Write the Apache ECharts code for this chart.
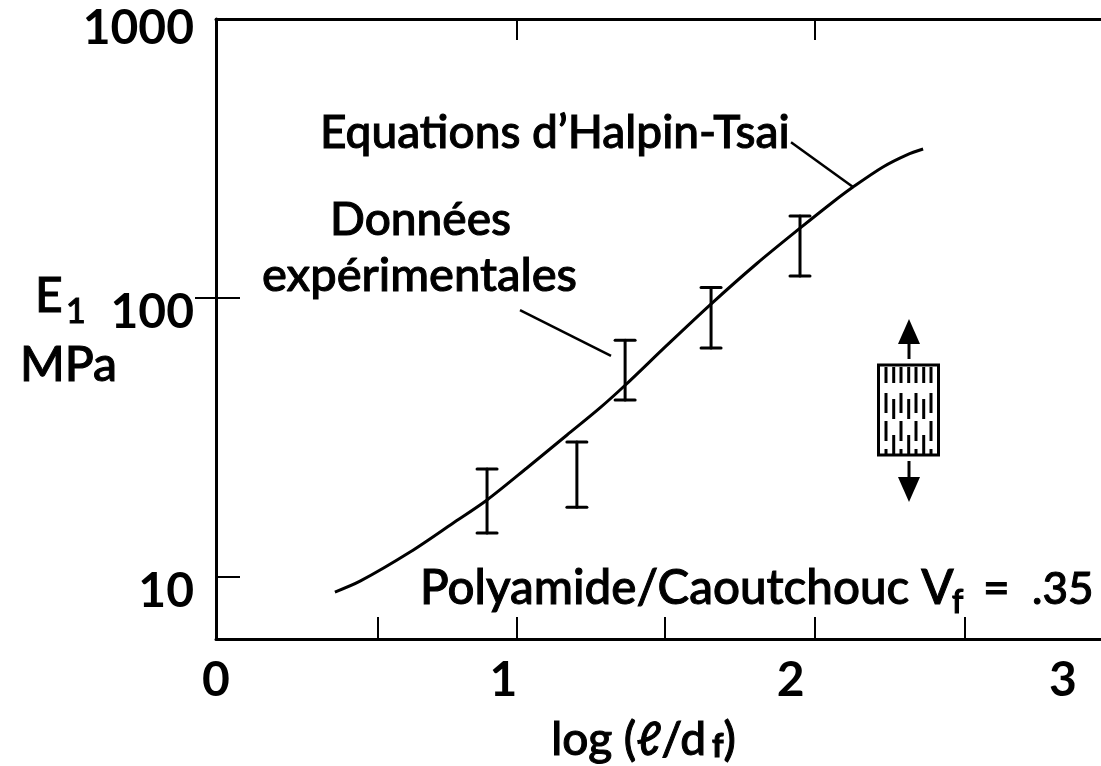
<!DOCTYPE html>
<html><head><meta charset="utf-8">
<style>html,body{margin:0;padding:0;background:#fff}#c{width:1101px;height:766px}</style>
<script src="https://cdn.jsdelivr.net/npm/echarts@6/dist/echarts.min.js"></script>
</head><body><div id="c"></div>
<script>
const curveX = [0.397,0.481,0.648,0.791,0.905,1.038,1.172,1.282,1.366,1.506,1.649,1.806,1.950,2.060,2.127,2.227,2.307,2.361];
const curveY = [8.84,9.67,12.3,15.6,18.9,24.6,32.3,40.4,48.7,67.8,94.4,133,178,221,250,295,326,342];
const barX = [0.905,1.205,1.366,1.653,1.950];
const barHigh = [24.4,30.5,70.6,109,197];
const barLow = [14.4,17.8,43.1,66.2,120];
const leaderA = [[1.920,362],[2.127,250]];
const leaderB = [[1.015,90.6],[1.319,62]];
const xLabels = [0,1,2,3];
const xTicks = [0.54,1.005,1.5,2,2.5];
const xTicksTop = [1.005,2];
const yTicks = [10,100,1000];
const yTicksRight = [100];
const FONT = 'Lato';
const black = '#000';

const chart = echarts.init(document.getElementById('c'));
const txt = (x,base,text,size,w) => ({type:'text',x,y:base-0.81*size,silent:true,style:{text,fontFamily:FONT,fontSize:size,fontWeight:500,fill:black,stroke:black,lineWidth:w===undefined?1:w}});
const rect = (x,y,w,h) => ({type:'rect',silent:true,shape:{x,y,width:w,height:h},style:{fill:black}});
const specimen = [];
specimen.push({type:'rect',silent:true,shape:{x:878.5,y:365,width:60,height:90},style:{fill:'none',stroke:black,lineWidth:3}});
[886,901,916,931].forEach(x=>[[367,383],[393,413],[421,441],[449,456]].forEach(r=>specimen.push(rect(x-1.5,r[0],3,r[1]-r[0]))));
[893.7,908.7,923.7].forEach(x=>[[367,383],[399,419],[435,456]].forEach(r=>specimen.push(rect(x-1.5,r[0],3,r[1]-r[0]))));
specimen.push({type:'polygon',silent:true,shape:{points:[[909,319],[898,344],[920,344]]},style:{fill:black}});
specimen.push(rect(907.5,343,3,16));
specimen.push({type:'polygon',silent:true,shape:{points:[[909,502],[898,477],[920,477]]},style:{fill:black}});
specimen.push(rect(907.5,461,3,17));

const lineSeries = (data,width) => ({type:'line',data,showSymbol:false,silent:true,smooth:false,lineStyle:{color:black,width},animation:false,z:3});

chart.setOption({
  animation:false,
  backgroundColor:'#fff',
  grid:{left:216,right:0,top:19,bottom:127,outerBoundsMode:'none'},
  xAxis:[
    {type:'value',position:'bottom',min:0,max:2.955,splitLine:{show:false},
     axisLine:{show:true,lineStyle:{color:black,width:3}},
     axisTick:{show:true,inside:true,length:22,lineStyle:{color:black,width:2},customValues:xTicks},
     axisLabel:{show:false},
     name:'log (ℓ/d{s|f}{b|)}',nameLocation:'middle',nameGap:78,
     nameTextStyle:{fontFamily:FONT,fontSize:46,fontWeight:500,color:black,padding:[0,30,0,0],textBorderColor:black,textBorderWidth:1,
       rich:{s:{fontFamily:FONT,fontSize:32,fontWeight:700,padding:[14,0,0,6],textBorderColor:black,textBorderWidth:1},b:{fontFamily:FONT,fontSize:46,fontWeight:500,textBorderColor:black,textBorderWidth:1}}}},
    {type:'value',position:'bottom',min:0,max:3.08,interval:1,splitLine:{show:false},
     axisLine:{show:false},axisTick:{show:false},
     axisLabel:{show:true,margin:18,showMaxLabel:true,showMinLabel:true,hideOverlap:false,verticalAlign:'top',
       customValues:xLabels,
       fontFamily:FONT,fontSize:48,fontWeight:700,color:black,
       formatter:v=>v===3?'{t|3}':String(v),rich:{t:{fontFamily:FONT,fontSize:48,fontWeight:700,color:black,padding:[0,30,0,0]}}}},
    {type:'value',position:'top',min:0,max:2.955,splitLine:{show:false},
     axisLine:{show:true,lineStyle:{color:black,width:3}},
     axisTick:{show:true,inside:true,length:21,lineStyle:{color:black,width:2},customValues:xTicksTop},
     axisLabel:{show:false}}
  ],
  yAxis:[
    {type:'log',logBase:10,position:'left',min:6,max:1000,splitLine:{show:false},minorTick:{show:false},
     axisLine:{show:true,lineStyle:{color:black,width:3}},
     axisTick:{show:true,inside:true,length:24,lineStyle:{color:black,width:2},customValues:yTicks},
     axisLabel:{show:true,margin:22,customValues:yTicks,hideOverlap:false,showMinLabel:true,showMaxLabel:true,
       fontFamily:FONT,fontSize:48,fontWeight:700,color:black,
       formatter:v=>v>=1000?'{a|'+v+'}':'{b|'+v+'}',
       rich:{a:{fontFamily:FONT,fontSize:48,fontWeight:700,color:black,padding:[20,0,0,0]},
             b:{fontFamily:FONT,fontSize:48,fontWeight:700,color:black,padding:[28,0,0,0]}}}},
    {type:'log',logBase:10,position:'right',min:6,max:1000,splitLine:{show:false},
     axisLine:{show:false},
     axisTick:{show:true,inside:true,length:21,lineStyle:{color:black,width:2},customValues:yTicksRight},
     axisLabel:{show:false}}
  ],
  series:[
    Object.assign(lineSeries(curveX.map((x,i)=>[x,curveY[i]]),3),{smooth:0.3}),
    lineSeries(leaderA,2.5),
    lineSeries(leaderB,2.5),
    {type:'custom',silent:true,animation:false,z:4,clip:false,
     data:barX.map((x,i)=>[x,barLow[i],barHigh[i]]),
     encode:{x:0,y:[1,2]},
     renderItem:(p,api)=>{
       const lo=api.coord([api.value(0),api.value(1)]), hi=api.coord([api.value(0),api.value(2)]);
       const s={stroke:black,lineWidth:3,lineCap:'round'}, w=10;
       return {type:'group',children:[
         {type:'line',shape:{x1:lo[0],y1:lo[1],x2:hi[0],y2:hi[1]},style:s},
         {type:'line',shape:{x1:lo[0]-w,y1:lo[1],x2:lo[0]+w,y2:lo[1]},style:s},
         {type:'line',shape:{x1:hi[0]-w,y1:hi[1],x2:hi[0]+w,y2:hi[1]},style:s}
       ]};
     }}
  ],
  graphic:[
    txt(320,147,'Equations d’Halpin-Tsai',46),
    txt(330,234,'Données',46),
    txt(262,290,'expérimentales',47),
    txt(420,603,'Polyamide/Caoutchouc V',47.5),
    txt(952,613,'f',32,1.2),
    txt(983,603,'=',46),
    txt(1032,603,'.35',44),
    txt(35,311,'E',48),
    txt(66,323,'1',34),
    txt(20,380,'MPa',48)
  ].concat(specimen)
});
</script></body></html>
